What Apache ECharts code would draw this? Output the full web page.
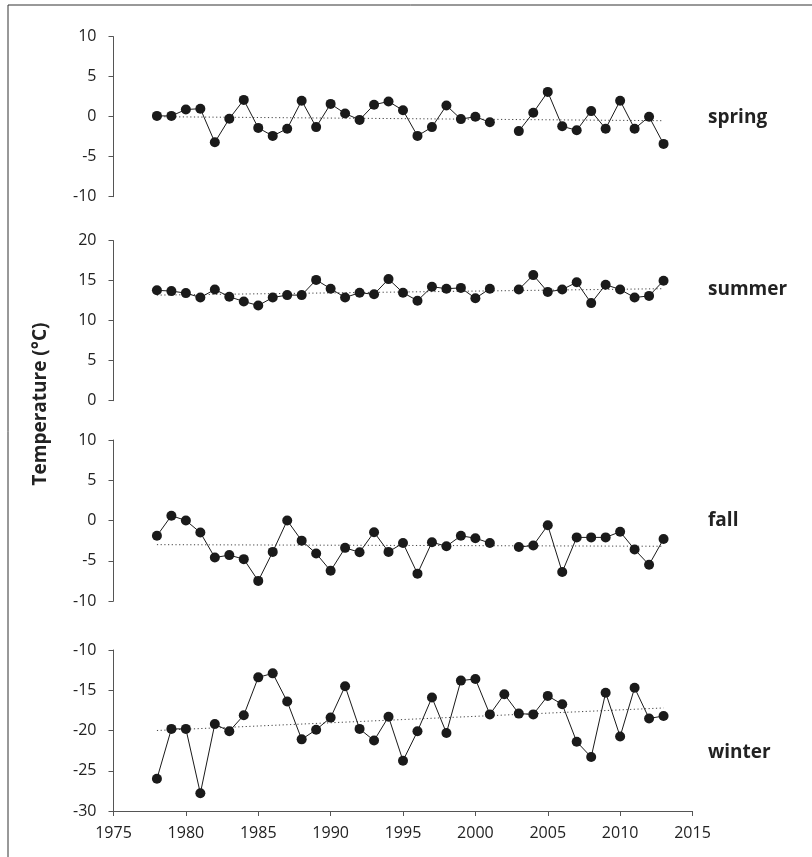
<!DOCTYPE html>
<html>
<head>
<meta charset="utf-8">
<script src="https://cdn.jsdelivr.net/npm/echarts@6/dist/echarts.min.js"></script>
<style>html,body{margin:0;padding:0;background:#fff;}#c{width:812px;height:857px;}</style>
</head>
<body>
<div id="c"></div>
<script>
var years = [1978,1979,1980,1981,1982,1983,1984,1985,1986,1987,1988,1989,1990,1991,1992,1993,1994,1995,1996,1997,1998,1999,2000,2001,2002,2003,2004,2005,2006,2007,2008,2009,2010,2011,2012,2013];
var spring = [0.1,0.1,0.9,1.0,-3.2,-0.25,2.1,-1.4,-2.4,-1.5,2.0,-1.3,1.6,0.4,-0.4,1.5,1.9,0.8,-2.4,-1.3,1.4,-0.3,0.0,-0.7,null,-1.8,0.5,3.1,-1.2,-1.7,0.7,-1.5,2.0,-1.5,0.0,-3.4];
var summer = [13.8,13.7,13.45,12.9,13.9,13.0,12.4,11.9,12.9,13.2,13.2,15.1,14.0,12.9,13.5,13.3,15.2,13.5,12.5,14.25,14.0,14.1,12.8,14.0,null,13.9,15.7,13.6,13.9,14.8,12.2,14.5,13.9,12.9,13.1,15.0];
var fall = [-1.9,0.6,0.0,-1.5,-4.6,-4.3,-4.8,-7.5,-3.9,0.0,-2.5,-4.1,-6.25,-3.4,-3.95,-1.45,-3.9,-2.8,-6.6,-2.7,-3.2,-1.9,-2.2,-2.8,null,-3.3,-3.1,-0.6,-6.4,-2.1,-2.1,-2.1,-1.4,-3.6,-5.5,-2.3];
var winter = [-26.0,-19.8,-19.8,-27.8,-19.2,-20.1,-18.1,-13.4,-12.9,-16.4,-21.1,-19.9,-18.4,-14.5,-19.8,-21.25,-18.3,-23.75,-20.1,-15.9,-20.3,-13.8,-13.6,-18.0,-15.5,-17.9,-18.0,-15.7,-16.75,-21.4,-23.3,-15.3,-20.75,-14.7,-18.5,-18.2];
var trendYears = [1978, 2013];
var springTrend = [0.0, -0.5];
var summerTrend = [13.2, 14.0];
var fallTrend = [-3.0, -3.2];
var winterTrend = [-20.0, -17.2];
var seasonNames = ['spring','summer','fall','winter'];
var yMins = [-10, 0, -10, -30];
var yMaxs = [10, 20, 10, -10];
var xTicks = [1975, 2015];
var yTitle = 'Temperature (°C)';

var FONT = 'Open Sans';
var seriesData = [spring, summer, fall, winter];
var trends = [springTrend, summerTrend, fallTrend, winterTrend];
var gridTops = [36.7, 240.7, 440, 650];
var gridHeights = [160, 160, 161, 161];
var labelY = [118, 290, 521, 753];

var grids = [], xAxes = [], yAxes = [], series = [], graphics = [];
for (var i = 0; i < 4; i++) {
  grids.push({left: 113.5, right: 119.5, top: gridTops[i], height: gridHeights[i]});
  xAxes.push({
    type: 'value', gridIndex: i, min: xTicks[0], max: xTicks[1], interval: 5,
    show: i === 3,
    axisLine: {show: true, onZero: false, lineStyle: {color: '#555', width: 1}},
    axisTick: {show: true, length: 5, inside: false, lineStyle: {color: '#555'}},
    axisLabel: {color: '#222', fontSize: 16, fontFamily: FONT, margin: 14,
      formatter: function (v) { return String(v); }},
    splitLine: {show: false}
  });
  yAxes.push({
    type: 'value', gridIndex: i, min: yMins[i], max: yMaxs[i], interval: 5,
    axisLine: {show: true, onZero: false, lineStyle: {color: '#555', width: 1}},
    axisTick: {show: true, length: 5, lineStyle: {color: '#555'}},
    axisLabel: {color: '#222', fontSize: 16, fontFamily: FONT, margin: 17},
    splitLine: {show: false}
  });
  var d = years.map(function (y, k) { return [y, seriesData[i][k]]; });
  series.push({
    type: 'line', xAxisIndex: i, yAxisIndex: i, data: d, connectNulls: false,
    symbol: 'circle', symbolSize: 10, showSymbol: true,
    lineStyle: {color: '#1a1a1a', width: 1},
    itemStyle: {color: '#1a1a1a'},
    animation: false, z: 3
  });
  series.push({
    type: 'line', xAxisIndex: i, yAxisIndex: i,
    data: trendYears.map(function (y, k) { return [y, trends[i][k]]; }),
    symbol: 'none', lineStyle: {color: '#444', width: 1, type: [1.2, 2.5]},
    animation: false, z: 2
  });
  graphics.push({
    type: 'text', x: 708, y: labelY[i],
    style: {text: seasonNames[i], font: 'bold 19px "' + FONT + '"', fill: '#222', textVerticalAlign: 'middle'}
  });
}
graphics.push({
  type: 'text', x: 41, y: 404, rotation: Math.PI / 2,
  style: {text: yTitle, font: 'bold 19px "' + FONT + '"', fill: '#222', textAlign: 'center', textVerticalAlign: 'middle'}
});
graphics.push({
  type: 'rect', shape: {x: 8, y: 5, width: 900, height: 900},
  style: {fill: 'none', stroke: '#333', lineWidth: 1}, silent: true
});

var chart = echarts.init(document.getElementById('c'));
chart.setOption({
  animation: false,
  backgroundColor: '#fff',
  grid: grids, xAxis: xAxes, yAxis: yAxes, series: series, graphic: graphics
});
</script>
</body>
</html>
